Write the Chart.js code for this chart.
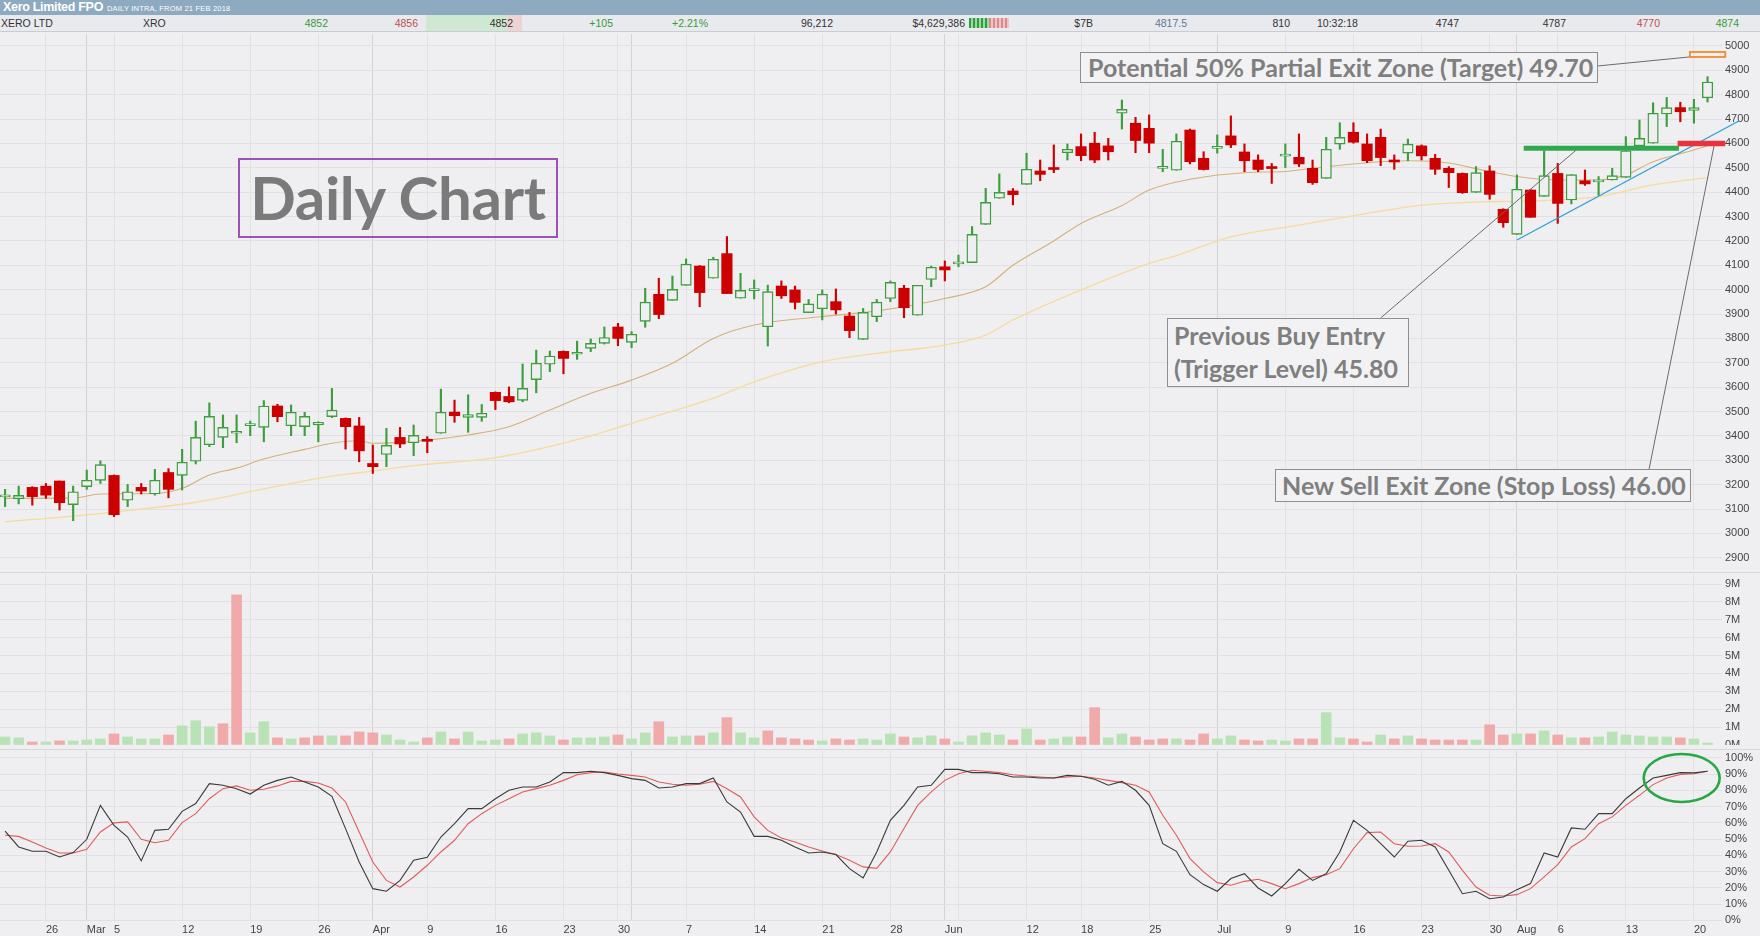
<!DOCTYPE html>
<html lang="en">
<head>
<meta charset="UTF-8">
<script src="https://cdn.jsdelivr.net/npm/chart.js"></script>
<style>
body { margin: 0; background: #efeff1; }
#page { position: relative; width: 1760px; height: 936px; background: #efeff1; overflow: hidden; font-family: "Liberation Sans", Arial, sans-serif; }
.topbar { position: absolute; left: 0; top: 0; width: 1760px; height: 15px; background: #8eaac0; color: #fff; white-space: nowrap; }
.topbar b { position: absolute; left: 3px; top: 0; font-size: 12.5px; line-height: 15px; letter-spacing: -0.3px; }
.topbar .sub { position: absolute; left: 107px; top: 1px; font-size: 7.5px; line-height: 15px; letter-spacing: 0.2px; }
.quote { position: absolute; left: 0; top: 15px; width: 1760px; height: 16px; background: #e8eaed; border-bottom: 1px solid #c9cdd2; font-size: 10.5px; color: #333; }
.quote span { position: absolute; top: 0; line-height: 16px; white-space: nowrap; }
.quote .cell { position: absolute; top: 0; height: 16px; }
.panel { position: absolute; left: 0; width: 1760px; }
.sep { position: absolute; left: 0; width: 1760px; height: 1px; background: #d6d6db; }
.note { position: absolute; box-sizing: border-box; border: 1px solid #8e8e8e; background: #f2f2f4; color: #7f7f7f;
        font-family: Lato, "Open Sans", sans-serif; font-weight: 700; font-size: 25px; white-space: nowrap; }
#dailyBox { left: 238px; top: 158px; width: 320px; height: 80px; border: 2.5px solid #9c52b4; background: transparent;
            font-size: 60px; text-align: center; line-height: 74px; color: #7a7a7a; letter-spacing: -0.3px; }
</style>
</head>
<body>
<div id="page">
  <div class="topbar"><b>Xero Limited FPO</b><span class="sub">DAILY INTRA, FROM 21 FEB 2018</span></div>
  <div class="quote">
    <div class="cell" style="left:426px;width:96px;background:linear-gradient(90deg,#cfe8d1 84%,#efd2d3 84%);"></div>
    <div class="cell" style="left:969px;top:3px;width:20px;height:10px;background:repeating-linear-gradient(90deg,#2f9e3f 0 2px,#9fd8a3 2px 4px);"></div>
    <div class="cell" style="left:989px;top:3px;width:20px;height:10px;background:repeating-linear-gradient(90deg,#d9898b 0 2px,#f1c4c5 2px 4px);"></div>
    <span style="left:1px">XERO LTD</span>
    <span style="left:143px">XRO</span>
    <span style="right:1432px;color:#3a9a3a">4852</span>
    <span style="right:1342px;color:#c0504d">4856</span>
    <span style="right:1247px">4852</span>
    <span style="right:1147px;color:#3a9a3a">+105</span>
    <span style="right:1052px;color:#3a9a3a">+2.21%</span>
    <span style="right:927px">96,212</span>
    <span style="right:795px">$4,629,386</span>
    <span style="right:667px">$7B</span>
    <span style="right:573px;color:#5d7b98">4817.5</span>
    <span style="right:470px">810</span>
    <span style="left:1317px">10:32:18</span>
    <span style="right:301px">4747</span>
    <span style="right:194px">4787</span>
    <span style="right:100px;color:#c0504d">4770</span>
    <span style="right:21px;color:#3a9a3a">4874</span>
  </div>

  <div class="panel" style="top:34px;height:536px"><canvas id="priceChart"></canvas></div>
  <div class="sep" style="top:572px"></div>
  <div class="panel" style="top:574px;height:171px"><canvas id="volChart"></canvas></div>
  <div class="sep" style="top:749px"></div>
  <div class="panel" style="top:751px;height:185px"><canvas id="stochChart"></canvas></div>

  <div id="dailyBox" class="note">Daily Chart</div>
  <div class="note" style="left:1080px;top:52px;width:518px;height:31px;line-height:29px;padding-left:7px">Potential 50% Partial Exit Zone (Target) 49.70</div>
  <div class="note" style="left:1167px;top:318px;width:242px;height:69px;line-height:33px;padding-left:6px">Previous Buy Entry<br>(Trigger Level) 45.80</div>
  <div class="note" style="left:1275px;top:469px;width:416px;height:33px;line-height:31px;padding-left:6px">New Sell Exit Zone (Stop Loss) 46.00</div>
</div>

<script>
// daily candles, XRO, 21 Feb 2018 .. 21 Aug 2018 (index = trading day)
const opens = [3150,3142,3189,3194,3215,3118,3192,3218,3238,3136,3189,3162,3250,3238,3296,3364,3394,3411,3442,3435,
  3523,3442,3438,3445,3479,3472,3441,3287,3324,3394,3372,3384,3411,3498,3476,3476,3579,3562,3546,3631,
  3694,3747,3735,3759,3780,3847,3784,3870,3981,3956,4018,4097,4047,4148,3965,3996,3848,4015,3999,3906,
  3922,3951,3892,3796,3889,3964,4006,3895,4042,4094,4106,4111,4268,4375,4405,4432,4487,4498,4562,4587,
  4601,4590,4724,4683,4662,4498,4490,4655,4539,4580,4631,4565,4532,4500,4548,4543,4498,4457,4597,4646,
  4598,4625,4532,4560,4590,4539,4498,4477,4399,4487,4330,4227,4409,4383,4477,4368,4447,4442,4450,4461,
  4590,4601,4721,4747,4735,4787];
const highs = [3181,3194,3192,3205,3215,3194,3260,3298,3240,3201,3205,3263,3266,3345,3461,3536,3486,3486,3461,3545,
  3530,3527,3497,3458,3595,3474,3476,3363,3431,3435,3445,3397,3592,3547,3569,3529,3581,3601,3695,3752,
  3748,3749,3789,3798,3847,3862,3828,4006,4047,4056,4126,4099,4133,4218,4067,4040,4019,4036,4015,3960,
  3999,4003,3907,3923,3960,4036,4018,4018,4097,4118,4142,4259,4416,4475,4415,4560,4532,4594,4598,4639,
  4646,4621,4778,4707,4717,4576,4639,4659,4566,4635,4713,4598,4553,4518,4598,4639,4532,4625,4685,4685,
  4639,4659,4553,4618,4594,4555,4505,4479,4505,4508,4332,4471,4411,4569,4518,4472,4491,4464,4498,4628,
  4696,4767,4789,4769,4781,4874];
const lows = [3110,3121,3116,3144,3096,3052,3181,3205,3069,3110,3162,3157,3146,3178,3285,3356,3352,3372,3401,3376,
  3458,3401,3401,3376,3475,3346,3294,3246,3274,3352,3319,3331,3411,3456,3415,3460,3508,3536,3540,3577,
  3664,3655,3714,3746,3777,3770,3762,3846,3881,3956,4018,3930,4047,3984,3965,3962,3769,3964,3921,3906,
  3876,3900,3803,3796,3869,3951,3885,3895,4012,4036,4094,4111,4268,4375,4348,4432,4447,4480,4532,4529,
  4521,4532,4659,4562,4562,4484,4490,4516,4491,4560,4583,4484,4484,4436,4501,4505,4432,4457,4576,4601,
  4521,4509,4494,4529,4532,4473,4419,4395,4399,4371,4256,4227,4297,4383,4272,4352,4428,4387,4450,4461,
  4590,4601,4669,4689,4683,4770];
const closes = [3154,3156,3151,3157,3126,3171,3218,3282,3077,3171,3174,3218,3181,3292,3394,3480,3435,3416,3446,3523,
  3479,3497,3480,3456,3506,3438,3339,3274,3361,3367,3402,3378,3497,3483,3488,3493,3545,3540,3595,3698,
  3728,3718,3743,3780,3804,3800,3817,3949,3898,4001,4105,3988,4125,3984,3997,4000,3992,3975,3948,3942,
  3982,3917,3832,3907,3949,4030,3926,4018,4092,4081,4110,4227,4358,4399,4390,4494,4473,4493,4576,4550,
  4532,4566,4740,4612,4601,4506,4609,4525,4493,4584,4594,4529,4493,4497,4552,4516,4439,4576,4625,4605,
  4529,4542,4524,4597,4549,4494,4480,4398,4480,4391,4275,4412,4297,4468,4354,4472,4434,4446,4468,4570,
  4621,4724,4747,4730,4747,4852];
// volume in millions of shares
const volumes = [0.45,0.40,0.17,0.17,0.23,0.23,0.28,0.34,0.62,0.45,0.34,0.34,0.56,1.07,1.36,1.02,1.19,8.40,0.68,1.30,
  0.40,0.34,0.40,0.51,0.51,0.51,0.73,0.68,0.56,0.28,0.17,0.40,0.73,0.34,0.73,0.23,0.28,0.34,0.62,0.68,
  0.51,0.28,0.40,0.40,0.45,0.56,0.34,0.68,1.30,0.45,0.51,0.51,0.68,1.53,0.68,0.40,0.79,0.40,0.34,0.28,
  0.23,0.34,0.28,0.34,0.28,0.62,0.45,0.40,0.51,0.34,0.17,0.51,0.68,0.56,0.28,0.90,0.28,0.34,0.45,0.45,
  2.09,0.40,0.62,0.45,0.28,0.34,0.34,0.28,0.62,0.34,0.51,0.28,0.23,0.28,0.23,0.34,0.34,1.81,0.40,0.34,
  0.17,0.56,0.34,0.51,0.34,0.28,0.28,0.28,0.28,1.13,0.56,0.62,0.62,0.79,0.56,0.40,0.40,0.45,0.73,0.56,
  0.51,0.45,0.45,0.40,0.34,0.11];
// stochastic %K (black) and %D (red)
const stochK = [55.0,45.2,42.5,42.5,39.0,41.7,49.9,70.8,58.5,51.3,36.6,55.4,56.1,67.1,71.9,84.2,83.2,81.1,77.8,83.2,
  86.2,88.3,85.2,82.1,76.4,56.5,35.9,19.5,17.9,24.6,37.0,38.8,51.3,59.5,68.8,68.8,74.9,80.1,82.1,82.1,
  85.2,91.0,91.0,91.8,91.0,89.3,87.3,86.2,81.5,82.1,84.2,84.2,87.7,72.9,66.7,51.7,51.7,49.3,45.2,41.5,
  42.1,40.5,31.8,26.1,42.1,61.6,70.8,82.1,83.2,93.0,93.0,91.0,91.0,90.3,88.3,88.3,87.7,87.7,89.3,88.7,
  86.9,83.2,85.6,80.1,70.8,47.2,42.5,28.1,22.0,17.9,25.7,28.7,19.9,15.0,22.6,31.4,24.6,28.7,42.1,61.6,
  55.4,47.2,39.0,48.7,49.3,45.2,30.8,16.4,17.9,13.3,14.4,18.9,22.6,41.5,39.0,56.9,56.1,65.7,65.7,74.9,
  81.5,87.7,89.3,91.0,90.8,91.8];
const stochD = [52.4,51.7,48.3,44.6,41.5,41.5,43.7,54.4,60.0,60.6,49.9,47.8,49.3,60.2,65.7,74.9,81.1,82.8,80.1,80.7,
  82.8,85.6,85.6,84.6,81.5,72.9,54.4,35.9,24.6,20.5,26.7,33.9,42.1,49.3,59.5,65.7,70.8,74.9,79.1,81.1,
  83.2,86.2,89.7,91.0,91.4,90.1,89.3,88.3,85.2,83.8,83.2,83.8,85.6,81.1,76.0,63.7,55.4,50.7,48.3,45.2,
  42.7,40.5,37.0,32.9,32.0,42.1,56.5,70.8,79.1,86.2,90.3,92.4,91.8,91.0,89.7,88.9,88.3,87.7,88.3,88.7,
  87.7,86.2,84.8,83.2,79.1,64.7,52.4,38.0,29.8,23.2,21.6,24.0,25.3,22.6,19.5,22.6,26.3,28.1,31.8,44.1,
  54.0,54.4,47.2,45.6,45.8,47.2,42.1,30.8,20.5,15.4,15.0,15.8,19.5,26.7,34.3,45.2,50.3,59.5,63.7,70.8,
  77.0,83.6,87.7,89.9,90.3,91.8];
// moving averages at [day index, price]
const maFast = [[0,3144],[5,3145],[7,3162],[11,3164],[13,3185],[15,3240],[17,3268],[19,3305],[22,3345],[24,3370],
  [26,3380],[27,3370],[31,3383],[34,3404],[37,3438],[40,3506],[43,3575],[46,3629],[49,3698],[52,3800],
  [55,3855],[60,3890],[64,3913],[69,3964],[72,4012],[74,4100],[77,4200],[79,4272],[82,4345],[84,4409],
  [87,4453],[91,4480],[94,4485],[96,4498],[100,4521],[103,4529],[106,4520],[109,4484],[112,4457],[114,4450],
  [117,4450],[119,4471],[121,4525],[124,4573],[125,4590]];
const maSlow = [[0,3048],[5,3071],[9,3094],[14,3128],[19,3183],[24,3235],[26,3249],[30,3278],[36,3311],[42,3385],
  [46,3452],[52,3555],[55,3622],[60,3705],[64,3739],[69,3773],[72,3814],[74,3876],[79,3999],[84,4108],
  [86,4140],[90,4217],[95,4265],[100,4313],[104,4347],[108,4360],[112,4364],[117,4382],[121,4430],[125,4460]];

const priceTicks = [2900,3000,3100,3200,3300,3400,3500,3600,3700,3800,3900,4000,4100,4200,4300,4400,4500,4600,4700,4800,4900,5000];
const volTicks = [0,1,2,3,4,5,6,7,8,9];
const stochTicks = [0,10,20,30,40,50,60,70,80,90,100];
const xLabelIdx  = [3,6,8,13,18,23,27,31,36,41,45,50,55,60,65,69,75,79,84,89,94,99,104,109,111,114,119,124];
const xLabelText = ['26','Mar','5','12','19','26','Apr','9','16','23','30','7','14','21','28','Jun','12','18','25','Jul','9','16','23','30','Aug','6','13','20'];
const monthIdx = [6,27,46,69,89,111];
const extraGridIdx = [46,70];

// trade levels drawn on the price panel
const entryLevel = 4580, stopLevel = 4600, targetLevel = 4965;
const entrySpan = [111.5, 122.9], stopSpan = [122.8, 126.3], targetSpan = [123.7, 126.3];
const trendLine = [[111.0, 4204], [127.3, 4692]];
const connectors = [
  [[116.96, 4918], [123.7, 4955]],
  [[101.0, 3884], [115.5, 4580]],
  [[120.7, 3262], [125.5, 4596]]
];
const stochMark = { x: 123.1, y: 87.7 };

const BG = '#efeff1';
const UP = '#3e9e3e', DOWN = '#cc0000';
const X_MIN = -0.371, X_MAX = 126.06;

const gridIdx = [...new Set(xLabelIdx.concat(extraGridIdx))].sort((a, b) => a - b);
const labelAt = {};
xLabelIdx.forEach((v, i) => { labelAt[v] = xLabelText[i]; });
const tickFont = { family: 'Liberation Sans', size: 11 };

function xScale(showLabels) {
  return {
    type: 'linear', min: X_MIN, max: X_MAX, offset: false, bounds: 'data',
    afterBuildTicks: s => { s.ticks = gridIdx.map(v => ({ value: v })); },
    afterFit: s => { s.height = showLabels ? 15 : 0; s.paddingLeft = 0; s.paddingRight = 0; },
    grid: { offset: false, drawTicks: false, lineWidth: 1,
            color: c => (c.tick && monthIdx.includes(c.tick.value)) ? '#d2d2d7' : '#e2e2e6' },
    border: { display: false },
    ticks: { display: showLabels, autoSkip: false, maxRotation: 0, minRotation: 0, align: 'start',
             padding: 2, color: '#444', font: tickFont, callback: v => labelAt[v] || '' }
  };
}

function yScale(min, max, ticks, fmt) {
  return {
    position: 'right', min: min, max: max, bounds: 'data',
    afterBuildTicks: s => { s.ticks = ticks.map(v => ({ value: v })); },
    afterFit: s => { s.width = 38; s.paddingTop = 0; s.paddingBottom = 0; },
    grid: { color: '#e1e1e5', drawTicks: false },
    border: { display: false },
    ticks: { padding: 3, color: '#444', font: tickFont, callback: fmt }
  };
}

const baseOpts = {
  responsive: true, maintainAspectRatio: false, animation: false,
  layout: { padding: 0, autoPadding: false },
  plugins: { legend: { display: false }, tooltip: { enabled: false } }
};

function seg(ctx, x, y, a, b) {
  ctx.beginPath();
  ctx.moveTo(x.getPixelForValue(a[0]), y.getPixelForValue(a[1]));
  ctx.lineTo(x.getPixelForValue(b[0]), y.getPixelForValue(b[1]));
  ctx.stroke();
}

const priceMarks = {
  id: 'priceMarks',
  afterDraw(chart) {
    const { ctx, scales: { x, y } } = chart;
    ctx.save();
    ctx.lineCap = 'butt';
    ctx.strokeStyle = '#6b6b6b'; ctx.lineWidth = 1;
    connectors.forEach(c => seg(ctx, x, y, c[0], c[1]));
    ctx.strokeStyle = '#2a9fd8'; ctx.lineWidth = 1.3;
    seg(ctx, x, y, trendLine[0], trendLine[1]);
    ctx.strokeStyle = '#2fa84f'; ctx.lineWidth = 5;
    seg(ctx, x, y, [entrySpan[0], entryLevel], [entrySpan[1], entryLevel]);
    ctx.strokeStyle = '#e8323c'; ctx.lineWidth = 5.5;
    seg(ctx, x, y, [stopSpan[0], stopLevel], [stopSpan[1], stopLevel]);
    // target marker: orange double line
    const x1 = x.getPixelForValue(targetSpan[0]), x2 = x.getPixelForValue(targetSpan[1]);
    const yt = y.getPixelForValue(targetLevel);
    ctx.strokeStyle = '#f28a2e'; ctx.lineWidth = 1.8;
    ctx.strokeRect(x1, yt - 2.5, x2 - x1, 5);
    ctx.restore();
  }
};

const stochRing = {
  id: 'stochRing',
  afterDraw(chart) {
    const { ctx, scales: { x, y } } = chart;
    ctx.save();
    ctx.strokeStyle = '#27a844'; ctx.lineWidth = 2.6;
    ctx.beginPath();
    ctx.ellipse(x.getPixelForValue(stochMark.x), y.getPixelForValue(stochMark.y), 38, 24, 0, 0, Math.PI * 2);
    ctx.stroke();
    ctx.restore();
  }
};

// candle pieces
const isUp = opens.map((o, i) => closes[i] >= o);
const bodyData = opens.map((o, i) => ({ x: i, y: [o, closes[i]] }));
const wickData = lows.map((l, i) => ({ x: i, y: [l, highs[i]] }));

new Chart(document.getElementById('priceChart'), {
  type: 'bar',
  data: {
    datasets: [
      { type: 'bar', data: bodyData, order: 0, grouped: false, barThickness: 10.5, minBarLength: 2,
        backgroundColor: isUp.map(u => u ? BG : DOWN),
        borderColor: isUp.map(u => u ? UP : DOWN),
        borderWidth: isUp.map(u => u ? 1.4 : 0), borderSkipped: false },
      { type: 'bar', data: wickData, order: 1, grouped: false, barThickness: 1.5,
        backgroundColor: isUp.map(u => u ? UP : DOWN), borderWidth: 0 },
      { type: 'line', data: maFast.map(p => ({ x: p[0], y: p[1] })), order: 2,
        borderColor: '#d5b07a', borderWidth: 1.1, pointRadius: 0, cubicInterpolationMode: 'monotone' },
      { type: 'line', data: maSlow.map(p => ({ x: p[0], y: p[1] })), order: 3,
        borderColor: '#f6db9c', borderWidth: 1.3, pointRadius: 0, cubicInterpolationMode: 'monotone' }
    ]
  },
  options: Object.assign({}, baseOpts, {
    scales: { x: xScale(false), y: yScale(2850, 5049, priceTicks, v => String(v)) }
  }),
  plugins: [priceMarks]
});

// volume bar colour follows close against previous close
const volUp = closes.map((c, i) => i === 0 ? c >= opens[0] : c >= closes[i - 1]);

new Chart(document.getElementById('volChart'), {
  type: 'bar',
  data: {
    datasets: [{
      data: volumes.map((v, i) => ({ x: i, y: v })), grouped: false, barThickness: 10,
      backgroundColor: volUp.map(u => u ? '#b9e3b6' : '#f0aaa9'), borderWidth: 0
    }]
  },
  options: Object.assign({}, baseOpts, {
    scales: { x: xScale(false), y: yScale(0, 9.56, volTicks, v => v + 'M') }
  })
});

new Chart(document.getElementById('stochChart'), {
  type: 'line',
  data: {
    datasets: [
      { data: stochK.map((v, i) => ({ x: i, y: v })), borderColor: '#3a3a3a', borderWidth: 1.1, pointRadius: 0, tension: 0 },
      { data: stochD.map((v, i) => ({ x: i, y: v })), borderColor: '#e25b5b', borderWidth: 1.1, pointRadius: 0, tension: 0 }
    ]
  },
  options: Object.assign({}, baseOpts, {
    scales: { x: xScale(true), y: yScale(-0.43, 104.3, stochTicks, v => v + '%') }
  }),
  plugins: [stochRing]
});
</script>
</body>
</html>
